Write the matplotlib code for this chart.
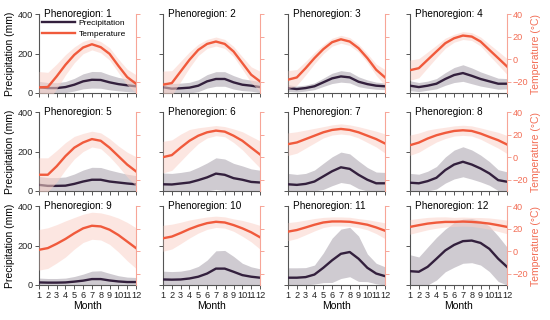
import matplotlib.pyplot as plt
import numpy as np

plt.rcParams['font.family'] = ['Liberation Sans', 'DejaVu Sans']

months = list(range(1, 13))
regions = list(range(1, 13))

# monthly mean precipitation (mm) per phenoregion
precip_mean = [
    [29, 25, 25, 30, 42, 59, 67, 66, 54, 45, 39, 34],
    [29, 22, 24, 27, 37, 59, 71, 71, 54, 42, 37, 30],
    [25, 20, 25, 34, 54, 74, 84, 79, 57, 45, 37, 34],
    [37, 30, 37, 47, 71, 91, 101, 87, 71, 59, 47, 47],
    [31, 26, 26, 27, 36, 48, 57, 57, 48, 43, 38, 34],
    [34, 33, 38, 43, 55, 69, 88, 82, 65, 57, 46, 43],
    [34, 31, 36, 48, 74, 100, 120, 112, 82, 57, 39, 39],
    [42, 39, 50, 67, 106, 134, 148, 134, 114, 89, 55, 47],
    [13, 12, 12, 13, 17, 22, 30, 30, 23, 18, 15, 15],
    [28, 27, 28, 33, 42, 58, 83, 83, 67, 50, 42, 37],
    [37, 37, 40, 53, 87, 125, 158, 167, 133, 87, 58, 45],
    [70, 67, 92, 133, 175, 203, 222, 225, 213, 183, 133, 92],
]
# spread of precipitation (mm)
precip_sd = [
    [30, 28, 27, 28, 32, 38, 42, 42, 38, 34, 32, 30],
    [28, 26, 26, 27, 30, 34, 37, 37, 34, 30, 28, 28],
    [17, 15, 15, 17, 21, 26, 29, 28, 25, 21, 18, 17],
    [25, 23, 23, 26, 32, 38, 42, 40, 36, 32, 28, 26],
    [43, 42, 42, 44, 50, 58, 63, 62, 58, 52, 47, 44],
    [57, 56, 56, 58, 65, 73, 80, 80, 75, 70, 66, 62],
    [55, 53, 53, 58, 66, 73, 77, 76, 70, 62, 57, 55],
    [47, 46, 50, 57, 66, 73, 76, 74, 68, 60, 53, 50],
    [22, 21, 21, 22, 26, 33, 40, 42, 36, 29, 25, 23],
    [42, 41, 42, 45, 52, 68, 90, 92, 78, 60, 50, 45],
    [50, 50, 48, 48, 75, 112, 125, 125, 115, 70, 52, 47],
    [83, 75, 100, 108, 108, 113, 112, 112, 112, 115, 115, 100],
]
# monthly mean temperature (degC)
temp_mean = [
    [-25, -24.7, -15.3, -5, 3.8, 10.3, 13.2, 10.6, 4.7, -5.9, -15.9, -21.8],
    [-22.6, -21.2, -10.9, -0.6, 8.2, 13.5, 15.6, 13.5, 6.8, -3.5, -13.8, -19.7],
    [-18.2, -16.2, -8, 0.9, 8.8, 15, 17.6, 15.6, 9.7, 0.9, -9.4, -16.2],
    [-9.8, -8, -0.6, 6.8, 14.1, 18.5, 20.9, 20, 15.6, 8.2, 0.9, -6.5],
    [-15.6, -15.6, -8.1, 0.9, 8.4, 13, 16, 14.5, 8.4, 0.9, -6.6, -12.6],
    [0, 1.8, 8.4, 14.5, 19, 22, 23.5, 22.6, 19, 14.5, 8.4, 2.4],
    [11.5, 13, 16, 19, 22, 24.1, 25, 24.1, 22, 19, 16, 12.1],
    [10.6, 12.9, 16.5, 19.4, 21.5, 23.2, 23.8, 23.2, 20.9, 17.9, 15, 11.2],
    [1.2, 2.7, 6.5, 10.8, 15.8, 20.2, 22.5, 21.9, 19, 14.3, 8.5, 2.7],
    [11.4, 12.9, 16.1, 19.6, 22.5, 24.8, 26, 25.4, 23.1, 20.2, 16.7, 12.3],
    [17.3, 18.7, 21, 23.4, 25.4, 26.3, 26.3, 26, 24.8, 23.4, 21, 18.1],
    [21.5, 23, 24.4, 25.3, 25.9, 25.9, 26.2, 25.9, 25.3, 24.4, 23, 21.5],
]
# spread of temperature (degC)
temp_sd = [
    [14, 13, 11, 9, 7, 5.5, 5, 5, 5.5, 6, 7, 8],
    [12, 11, 9, 7, 5, 4, 4, 4, 4.5, 5.5, 7, 9],
    [8, 7, 6, 5, 4, 3.5, 3.5, 3.5, 3.5, 4, 5, 7],
    [9, 8.5, 7, 5.5, 4.5, 3.5, 3.5, 3.5, 4, 5, 6, 7],
    [15, 15, 14, 12, 10, 8, 7, 7, 8, 9, 11, 13],
    [14, 13.5, 12, 10, 7, 5, 4.5, 4.5, 6, 8, 10, 12],
    [10, 9.5, 8, 6.5, 5, 4.5, 4.5, 4.5, 5, 6, 7, 8.5],
    [9, 8.5, 7.5, 6, 5, 4.5, 4.5, 4.5, 5, 6, 7, 8],
    [18, 18, 17, 16, 14, 12.5, 12, 12, 13, 15, 17, 18],
    [11.5, 11, 9.5, 8, 6.5, 5.5, 5, 5, 5.5, 7, 8.5, 10.5],
    [8, 7.5, 6.5, 5.5, 4.5, 4, 4, 4, 4, 4.5, 5.5, 7],
    [6.5, 6, 5.5, 5, 4.5, 4, 4, 4, 4.5, 5, 5.5, 6],
]

P_LINE = '#33203d'
P_FILL = '#cfcbd1'
T_LINE = '#f05a3c'
T_FILL = '#fbd2c9'
T_AXIS = '#f7a597'
T_TEXT = '#f26d55'

W, H = 550, 320
col_left = [39, 163, 288, 410]
row_top = [14, 112, 206]
aw, ah = 97, 79

fig = plt.figure(figsize=(5.5, 3.2), dpi=100)

for i, reg in enumerate(regions):
    r, c = divmod(i, 4)
    ax = fig.add_axes([col_left[c] / W, 1 - (row_top[r] + ah) / H, aw / W, ah / H])
    tx = ax.twinx()

    pm = np.array(precip_mean[i])
    ps = np.array(precip_sd[i])
    tm = np.array(temp_mean[i])
    ts = np.array(temp_sd[i])

    ax.fill_between(months, np.clip(pm - ps, 0, None), pm + ps,
                    color=P_FILL, lw=0, zorder=1)
    lp, = ax.plot(months, pm, color=P_LINE, lw=1.7, zorder=3, label='Precipitation')
    tx.fill_between(months, tm - ts, tm + ts, color=T_FILL, alpha=0.55, lw=0, zorder=1)
    lt, = tx.plot(months, tm, color=T_LINE, lw=1.7, zorder=3, label='Temperature')

    ax.set_xlim(1, 12)
    ax.set_ylim(0, 400)
    tx.set_ylim(-30, 40)
    ax.set_xticks(months)
    ax.set_yticks([0, 200, 400])
    tx.set_yticks([-20, 0, 20, 40])

    for s in ['top', 'right']:
        ax.spines[s].set_visible(False)
    for s in ['top', 'left', 'bottom']:
        tx.spines[s].set_visible(False)
    ax.spines['left'].set_color('#555555')
    ax.spines['bottom'].set_color('#555555')
    ax.spines['left'].set_linewidth(0.8)
    ax.spines['bottom'].set_linewidth(0.8)
    tx.spines['right'].set_color(T_AXIS)
    tx.spines['right'].set_linewidth(0.8)

    ax.tick_params(axis='both', direction='out', length=2.8, width=0.7,
                   colors='#555555', labelcolor='#222222', labelsize=6.6, pad=1.5)
    tx.tick_params(axis='y', direction='out', length=2.8, width=0.7,
                   colors=T_AXIS, labelcolor=T_TEXT, labelsize=6.6, pad=1.5)

    if c != 0:
        ax.set_yticklabels([])
    else:
        ax.set_ylabel('Precipitation (mm)', fontsize=7.5, labelpad=2)
    if c != 3:
        tx.set_yticklabels([])
    else:
        tx.set_ylabel('Temperature (°C)', fontsize=7.5, color=T_TEXT, labelpad=2)
    if r != 2:
        ax.set_xticklabels([])
    else:
        ax.set_xlabel('Month', fontsize=7.5, labelpad=1)

    tx.text(0.05, 1.0, f'Phenoregion: {reg}', transform=ax.transAxes,
            fontsize=7.2, va='center', ha='left', zorder=5)

    if i == 0:
        tx.legend([lp, lt], ['Precipitation', 'Temperature'], loc='upper left',
                  bbox_to_anchor=(0.03, 0.93), frameon=False, borderaxespad=0,
                  handlelength=4, handletextpad=0.4, labelspacing=0.3,
                  fontsize=6, borderpad=0)

fig.savefig('out.png', dpi=100)
